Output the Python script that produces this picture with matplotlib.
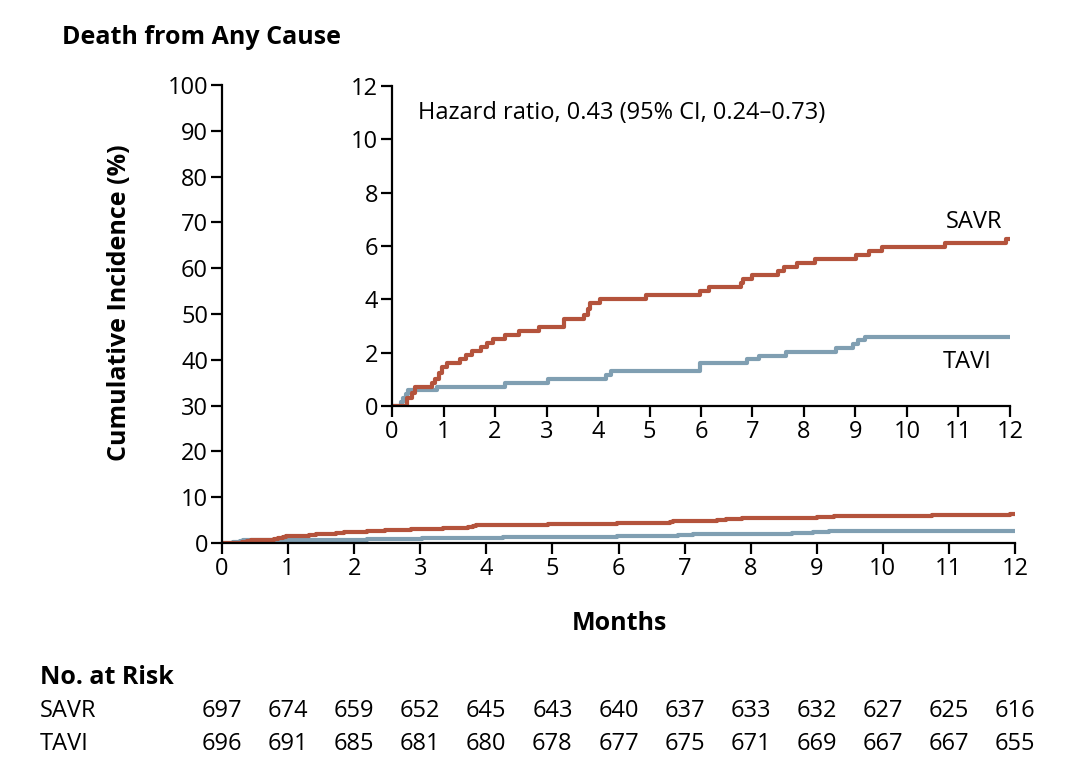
import matplotlib
matplotlib.use("Agg")
import matplotlib.pyplot as plt
from matplotlib.transforms import blended_transform_factory

plt.rcParams["font.family"] = ["Open Sans", "DejaVu Sans"]

# step curves (months, cumulative incidence %)
savr_t = [0, 0.30, 0.38, 0.44, 0.78, 0.84, 0.92, 0.97, 1.07, 1.32, 1.43, 1.56, 1.73, 1.85,
          1.96, 2.19, 2.47, 2.86, 3.34, 3.73, 3.80, 3.85, 4.04, 4.93, 5.98, 6.15, 6.78,
          6.82, 6.99, 7.49, 7.62, 7.87, 8.21, 9.01, 9.26, 9.52, 10.74, 11.92, 12.0]
savr_y = [0, 0.30, 0.50, 0.72, 0.87, 1.00, 1.25, 1.45, 1.60, 1.75, 1.90, 2.05, 2.20, 2.35,
          2.50, 2.65, 2.80, 2.95, 3.25, 3.40, 3.65, 3.85, 4.00, 4.15, 4.30, 4.45, 4.60,
          4.75, 4.90, 5.05, 5.20, 5.35, 5.50, 5.65, 5.80, 5.95, 6.10, 6.25, 6.25]
tavi_t = [0, 0.17, 0.22, 0.27, 0.32, 0.88, 2.19, 3.03, 4.15, 4.25, 5.98, 6.90, 7.12, 7.66,
          8.63, 8.95, 9.05, 9.18, 12.0]
tavi_y = [0, 0.15, 0.30, 0.45, 0.60, 0.73, 0.87, 1.00, 1.15, 1.30, 1.60, 1.75, 1.88, 2.03,
          2.18, 2.33, 2.48, 2.60, 2.60]

risk_months = list(range(13))
savr_risk = [697, 674, 659, 652, 645, 643, 640, 637, 633, 632, 627, 625, 616]
tavi_risk = [696, 691, 685, 681, 680, 678, 677, 675, 671, 669, 667, 667, 655]

SAVR_COL = "#b4533c"
TAVI_COL = "#809fb2"
FS = 17
BFS = 18
LW = 3.0

fig = plt.figure(figsize=(10.8, 7.66), dpi=100)
W, H = 1080, 766


def frac(x0, y0, x1, y1):
    return [x0 / W, 1 - y1 / H, (x1 - x0) / W, (y1 - y0) / H]


def style(ax):
    for s in ["top", "right"]:
        ax.spines[s].set_visible(False)
    for s in ["left", "bottom"]:
        ax.spines[s].set_linewidth(1.6)
    ax.tick_params(direction="out", length=8, width=1.6, labelsize=FS, pad=2)


ax = fig.add_axes(frac(222, 85, 1015, 543))
ax.step(tavi_t, tavi_y, where="post", color=TAVI_COL, lw=LW)
ax.step(savr_t, savr_y, where="post", color=SAVR_COL, lw=LW)
ax.set_xlim(0, 12)
ax.set_ylim(0, 100)
ax.set_xticks(range(13))
ax.set_yticks(range(0, 101, 10))
ax.patch.set_alpha(0)
style(ax)

ins = fig.add_axes(frac(392, 86, 1010, 406))
ins.step(tavi_t, tavi_y, where="post", color=TAVI_COL, lw=LW)
ins.step(savr_t, savr_y, where="post", color=SAVR_COL, lw=LW)
ins.set_xlim(0, 12)
ins.set_ylim(0, 12)
ins.set_xticks(range(13))
ins.set_yticks(range(0, 13, 2))
ins.patch.set_alpha(0)
style(ins)
ins.text(0.5, 11.0, "Hazard ratio, 0.43 (95% CI, 0.24\u20130.73)", fontsize=FS, va="center")
ins.text(11.85, 6.9, "SAVR", fontsize=FS, ha="right", va="center")
ins.text(11.65, 1.65, "TAVI", fontsize=FS, ha="right", va="center")

fig.text(62 / W, 1 - 38 / H, "Death from Any Cause", fontsize=BFS, fontweight="bold",
         ha="left", va="center")
fig.text(120 / W, 1 - 303 / H, "Cumulative Incidence (%)", fontsize=BFS, fontweight="bold",
         rotation=90, ha="center", va="center")
fig.text(619 / W, 1 - 623 / H, "Months", fontsize=BFS, fontweight="bold",
         ha="center", va="center")

fig.text(40 / W, 1 - 677 / H, "No. at Risk", fontsize=BFS, fontweight="bold",
         ha="left", va="center")
fig.text(40 / W, 1 - 711 / H, "SAVR", fontsize=FS, ha="left", va="center")
fig.text(40 / W, 1 - 744 / H, "TAVI", fontsize=FS, ha="left", va="center")
tr = blended_transform_factory(ax.transData, fig.transFigure)
for m, s, t in zip(risk_months, savr_risk, tavi_risk):
    ax.text(m, 1 - 711 / H, str(s), transform=tr, fontsize=FS, ha="center", va="center")
    ax.text(m, 1 - 744 / H, str(t), transform=tr, fontsize=FS, ha="center", va="center")

fig.savefig("out.png", dpi=100)
